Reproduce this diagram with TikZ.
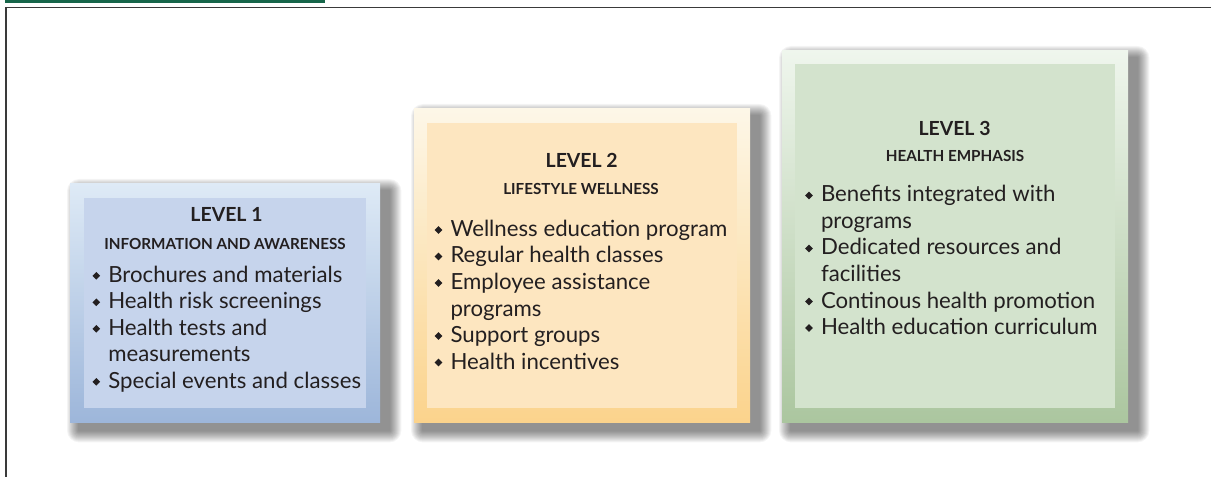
\documentclass[tikz,border=0pt]{standalone}
\usepackage{fontspec}
\setmainfont{Lato}
\usetikzlibrary{backgrounds}
\definecolor{txt}{HTML}{231F20}
\definecolor{barg}{HTML}{17664A}
\definecolor{frm}{HTML}{3A3A3A}
\definecolor{aTop}{HTML}{DEEAF6}\definecolor{aBot}{HTML}{9DB6DA}\definecolor{aIn}{HTML}{C6D4EC}
\definecolor{bTop}{HTML}{FDF7E8}\definecolor{bBot}{HTML}{FBD38C}\definecolor{bIn}{HTML}{FDE6C0}
\definecolor{cTop}{HTML}{EFF6ED}\definecolor{cBot}{HTML}{ABC69F}\definecolor{cIn}{HTML}{D3E3CD}
\newcommand\bul{\makebox[15.8bp][l]{\raisebox{2.7bp}{\rotatebox{45}{\rule{5.4bp}{5.4bp}}}}}
\newcommand\softshadow[1]{%
  \foreach \r in {1,...,12}{%
    \fill[black, fill opacity=0.045, rounded corners=\r bp]
      ([xshift=9bp-\r bp, yshift=-8bp+\r bp]#1.north west) rectangle
      ([xshift=9bp+\r bp, yshift=-8bp-\r bp]#1.south east);}}
\tikzset{
  outerbox/.style={anchor=north west, inner sep=0pt, draw=none},
  innerbox/.style={anchor=north west, inner sep=0pt, draw=none},
  ttl/.style={anchor=base, inner sep=0pt, text=txt, font=\bfseries\fontsize{19.5}{22}\selectfont},
  sub/.style={anchor=base, inner sep=0pt, text=txt, font=\bfseries\fontsize{15.3}{18}\selectfont},
  items/.style={anchor=base west, inner sep=0pt, text=txt, font=\fontsize{22.3}{26.6}\selectfont}
}
\begin{document}
\begin{tikzpicture}[x=1bp,y=-1bp]
\useasboundingbox (0,0) rectangle (1211,477);
% header bar and frame
\fill[barg] (5,0) rectangle (325,3);
\draw[frm, line width=1.6bp] (6,477) -- (6,7.6) -- (1211,7.6);
% box 1
\node[outerbox, top color=aTop, bottom color=aBot, minimum width=310bp, minimum height=239bp] (o1) at (70,183) {};
\node[innerbox, fill=aIn, minimum width=282bp, minimum height=210bp] (i1) at (84,198) {};
\node[ttl] (t1) at (226.5,221.5) {LEVEL 1};
\node[sub] (s1) at (225,249.5) {INFORMATION AND AWARENESS};
\node[items] (l1) at (92.3,282.3) {\begin{tabular}[t]{@{}l@{}l@{}}
\bul & Brochures and materials\\
\bul & Health risk screenings\\
\bul & Health tests and\\
 & measurements\\
\bul & Special events and classes
\end{tabular}};
% box 2
\node[outerbox, top color=bTop, bottom color=bBot, minimum width=336bp, minimum height=314bp] (o2) at (414,108) {};
\node[innerbox, fill=bIn, minimum width=310bp, minimum height=285bp] (i2) at (427,123) {};
\node[ttl] (t2) at (581.7,167.5) {LEVEL 2};
\node[sub] (s2) at (581,195) {LIFESTYLE WELLNESS};
\node[items] (l2) at (434.5,236.5) {\begin{tabular}[t]{@{}l@{}l@{}}
\bul & Wellness education program\\
\bul & Regular health classes\\
\bul & Employee assistance\\
 & programs\\
\bul & Support groups\\
\bul & Health incentives
\end{tabular}};
% box 3
\node[outerbox, top color=cTop, bottom color=cBot, minimum width=346bp, minimum height=372bp] (o3) at (782,50) {};
\node[innerbox, fill=cIn, minimum width=320bp, minimum height=344bp] (i3) at (795,64) {};
\node[ttl] (t3) at (954.5,135.7) {LEVEL 3};
\node[sub] (s3) at (955,161.7) {HEALTH EMPHASIS};
\node[items] (l3) at (805,202) {\begin{tabular}[t]{@{}l@{}l@{}}
\bul & Benefits integrated with\\
 & programs\\
\bul & Dedicated resources and\\
 & facilities\\
\bul & Continous health promotion\\
\bul & Health education curriculum
\end{tabular}};
% background and soft shadows
\begin{scope}[on background layer]
\fill[white] (0,0) rectangle (1211,477);
\softshadow{o1}
\softshadow{o2}
\softshadow{o3}
\end{scope}
\end{tikzpicture}
\end{document}
